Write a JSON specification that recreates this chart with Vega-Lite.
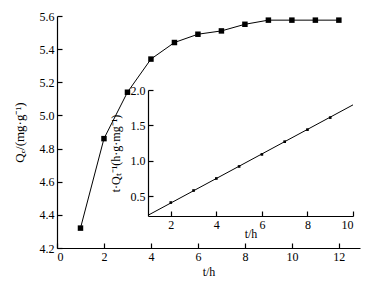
{
  "$schema": "https://vega.github.io/schema/vega-lite/v6.json",
  "autosize": "none",
  "width": 303,
  "height": 232,
  "padding": {"left": 57, "top": 16, "right": 28, "bottom": 36},
  "config": {
    "view": {"stroke": null},
    "font": "Liberation Serif",
    "axis": {
      "grid": false,
      "domainColor": "black",
      "domainWidth": 1.2,
      "tickColor": "black",
      "tickWidth": 1.2,
      "tickSize": -5,
      "labelColor": "black",
      "labelFont": "Liberation Serif",
      "labelFontSize": 12,
      "titleFont": "Liberation Serif",
      "titleFontSize": 12,
      "titleFontWeight": "normal",
      "titleColor": "black"
    }
  },
  "datasets": {
    "main": [
      {"t": 1, "q": 4.32}, {"t": 2, "q": 4.86}, {"t": 3, "q": 5.14}, {"t": 4, "q": 5.34},
      {"t": 5, "q": 5.44}, {"t": 6, "q": 5.49}, {"t": 7, "q": 5.51}, {"t": 8, "q": 5.55},
      {"t": 9, "q": 5.575}, {"t": 10, "q": 5.575}, {"t": 11, "q": 5.575}, {"t": 12, "q": 5.575}
    ],
    "inset": [
      {"t": 2, "v": 0.41}, {"t": 3, "v": 0.58}, {"t": 4, "v": 0.75}, {"t": 5, "v": 0.92},
      {"t": 6, "v": 1.09}, {"t": 7, "v": 1.27}, {"t": 8, "v": 1.44}, {"t": 9, "v": 1.61}
    ],
    "fit": [
      {"t": 1, "v": 0.23}, {"t": 10, "v": 1.79}
    ]
  },
  "layer": [
    {
      "data": {"name": "main"},
      "encoding": {
        "x": {"field": "t", "type": "quantitative",
              "scale": {"domain": [0, 12.9], "nice": false, "zero": false},
              "axis": {"orient": "bottom", "values": [0, 2, 4, 6, 8, 10, 12], "title": "t/h", "labelPadding": 8, "titlePadding": 4}},
        "y": {"field": "q", "type": "quantitative",
              "scale": {"domain": [4.2, 5.6], "nice": false, "zero": false},
              "axis": {"orient": "left", "values": [4.2, 4.4, 4.6, 4.8, 5.0, 5.2, 5.4, 5.6], "format": ".1f", "title": "Qₑ/(mg·g⁻¹)", "labelPadding": 8, "titlePadding": 13, "titleFontSize": 13}}
      },
      "layer": [
        {"mark": {"type": "line", "color": "black", "strokeWidth": 1}},
        {"mark": {"type": "square", "color": "black", "filled": true, "opacity": 1, "size": 30}}
      ]
    },
    {
      "encoding": {
        "x": {"field": "t", "type": "quantitative",
              "scale": {"domain": [1, 10], "range": [91, 296], "nice": false, "zero": false},
              "axis": {"orient": "bottom", "offset": -32, "values": [2, 4, 6, 8, 10], "title": "t/h", "labelPadding": 8, "titlePadding": -2}},
        "y": {"field": "v", "type": "quantitative",
              "scale": {"domain": [0.22, 2.0], "range": [200, 74], "nice": false, "zero": false},
              "axis": {"orient": "left", "offset": -91, "values": [0.5, 1.0, 1.5, 2.0], "format": ".1f", "title": "t·Qₜ⁻¹(h·g·mg⁻¹)", "labelPadding": 8, "titlePadding": 8}}
      },
      "layer": [
        {"data": {"name": "fit"}, "mark": {"type": "line", "color": "black", "strokeWidth": 1}},
        {"data": {"name": "inset"}, "mark": {"type": "square", "color": "black", "filled": true, "opacity": 1, "size": 7}}
      ]
    }
  ],
  "resolve": {"scale": {"x": "independent", "y": "independent"}, "axis": {"x": "independent", "y": "independent"}}
}
